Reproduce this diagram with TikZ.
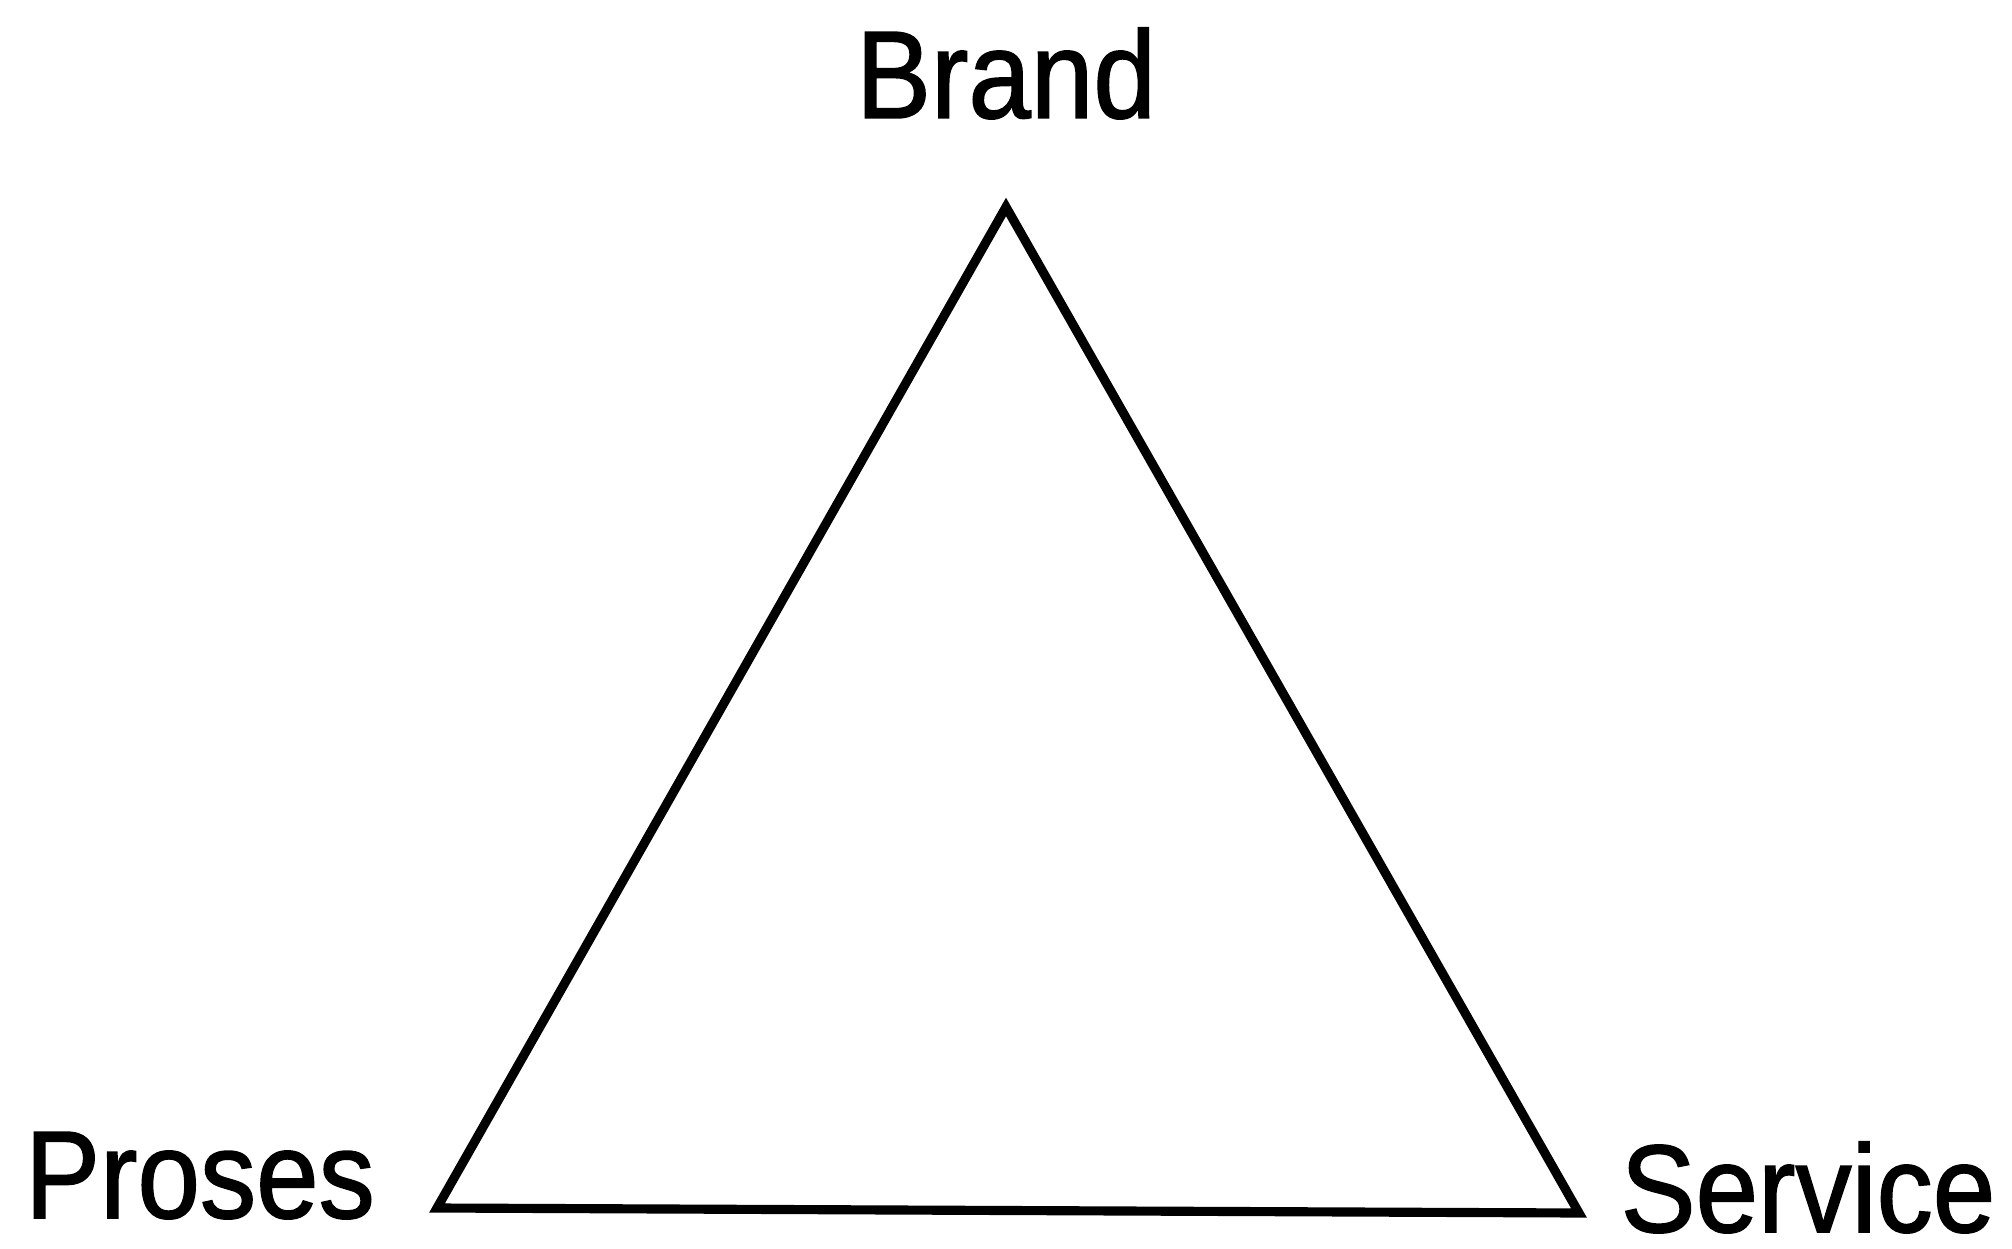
\documentclass[tikz,border=0pt]{standalone}
\usepackage{fontspec}
\newfontfamily\lblfont[FakeStretch=0.9,FakeBold=1.2]{Liberation Sans}
\usepackage{tikz}

\begin{document}
\begin{tikzpicture}[
  x=0.01cm,y=-0.01cm,
  every node/.style={font=\lblfont\fontsize{35.5}{40}\selectfont,inner sep=0pt},
  lbl/.style={anchor=base},
  edge/.style={line width=2.6pt,line join=miter}
]
\useasboundingbox (0,0) rectangle (2012,1249);
\coordinate (top) at (1006,207);
\coordinate (left) at (437,1208);
\coordinate (right) at (1579,1213);
\node[lbl] (brand) at (1006,118) {Brand};
\node[lbl] (proses) at (200,1218) {Proses};
\node[lbl] (service) at (1808,1232) {Service};
\draw[edge] (top)--(left)--(right)--cycle;
\end{tikzpicture}
\end{document}
